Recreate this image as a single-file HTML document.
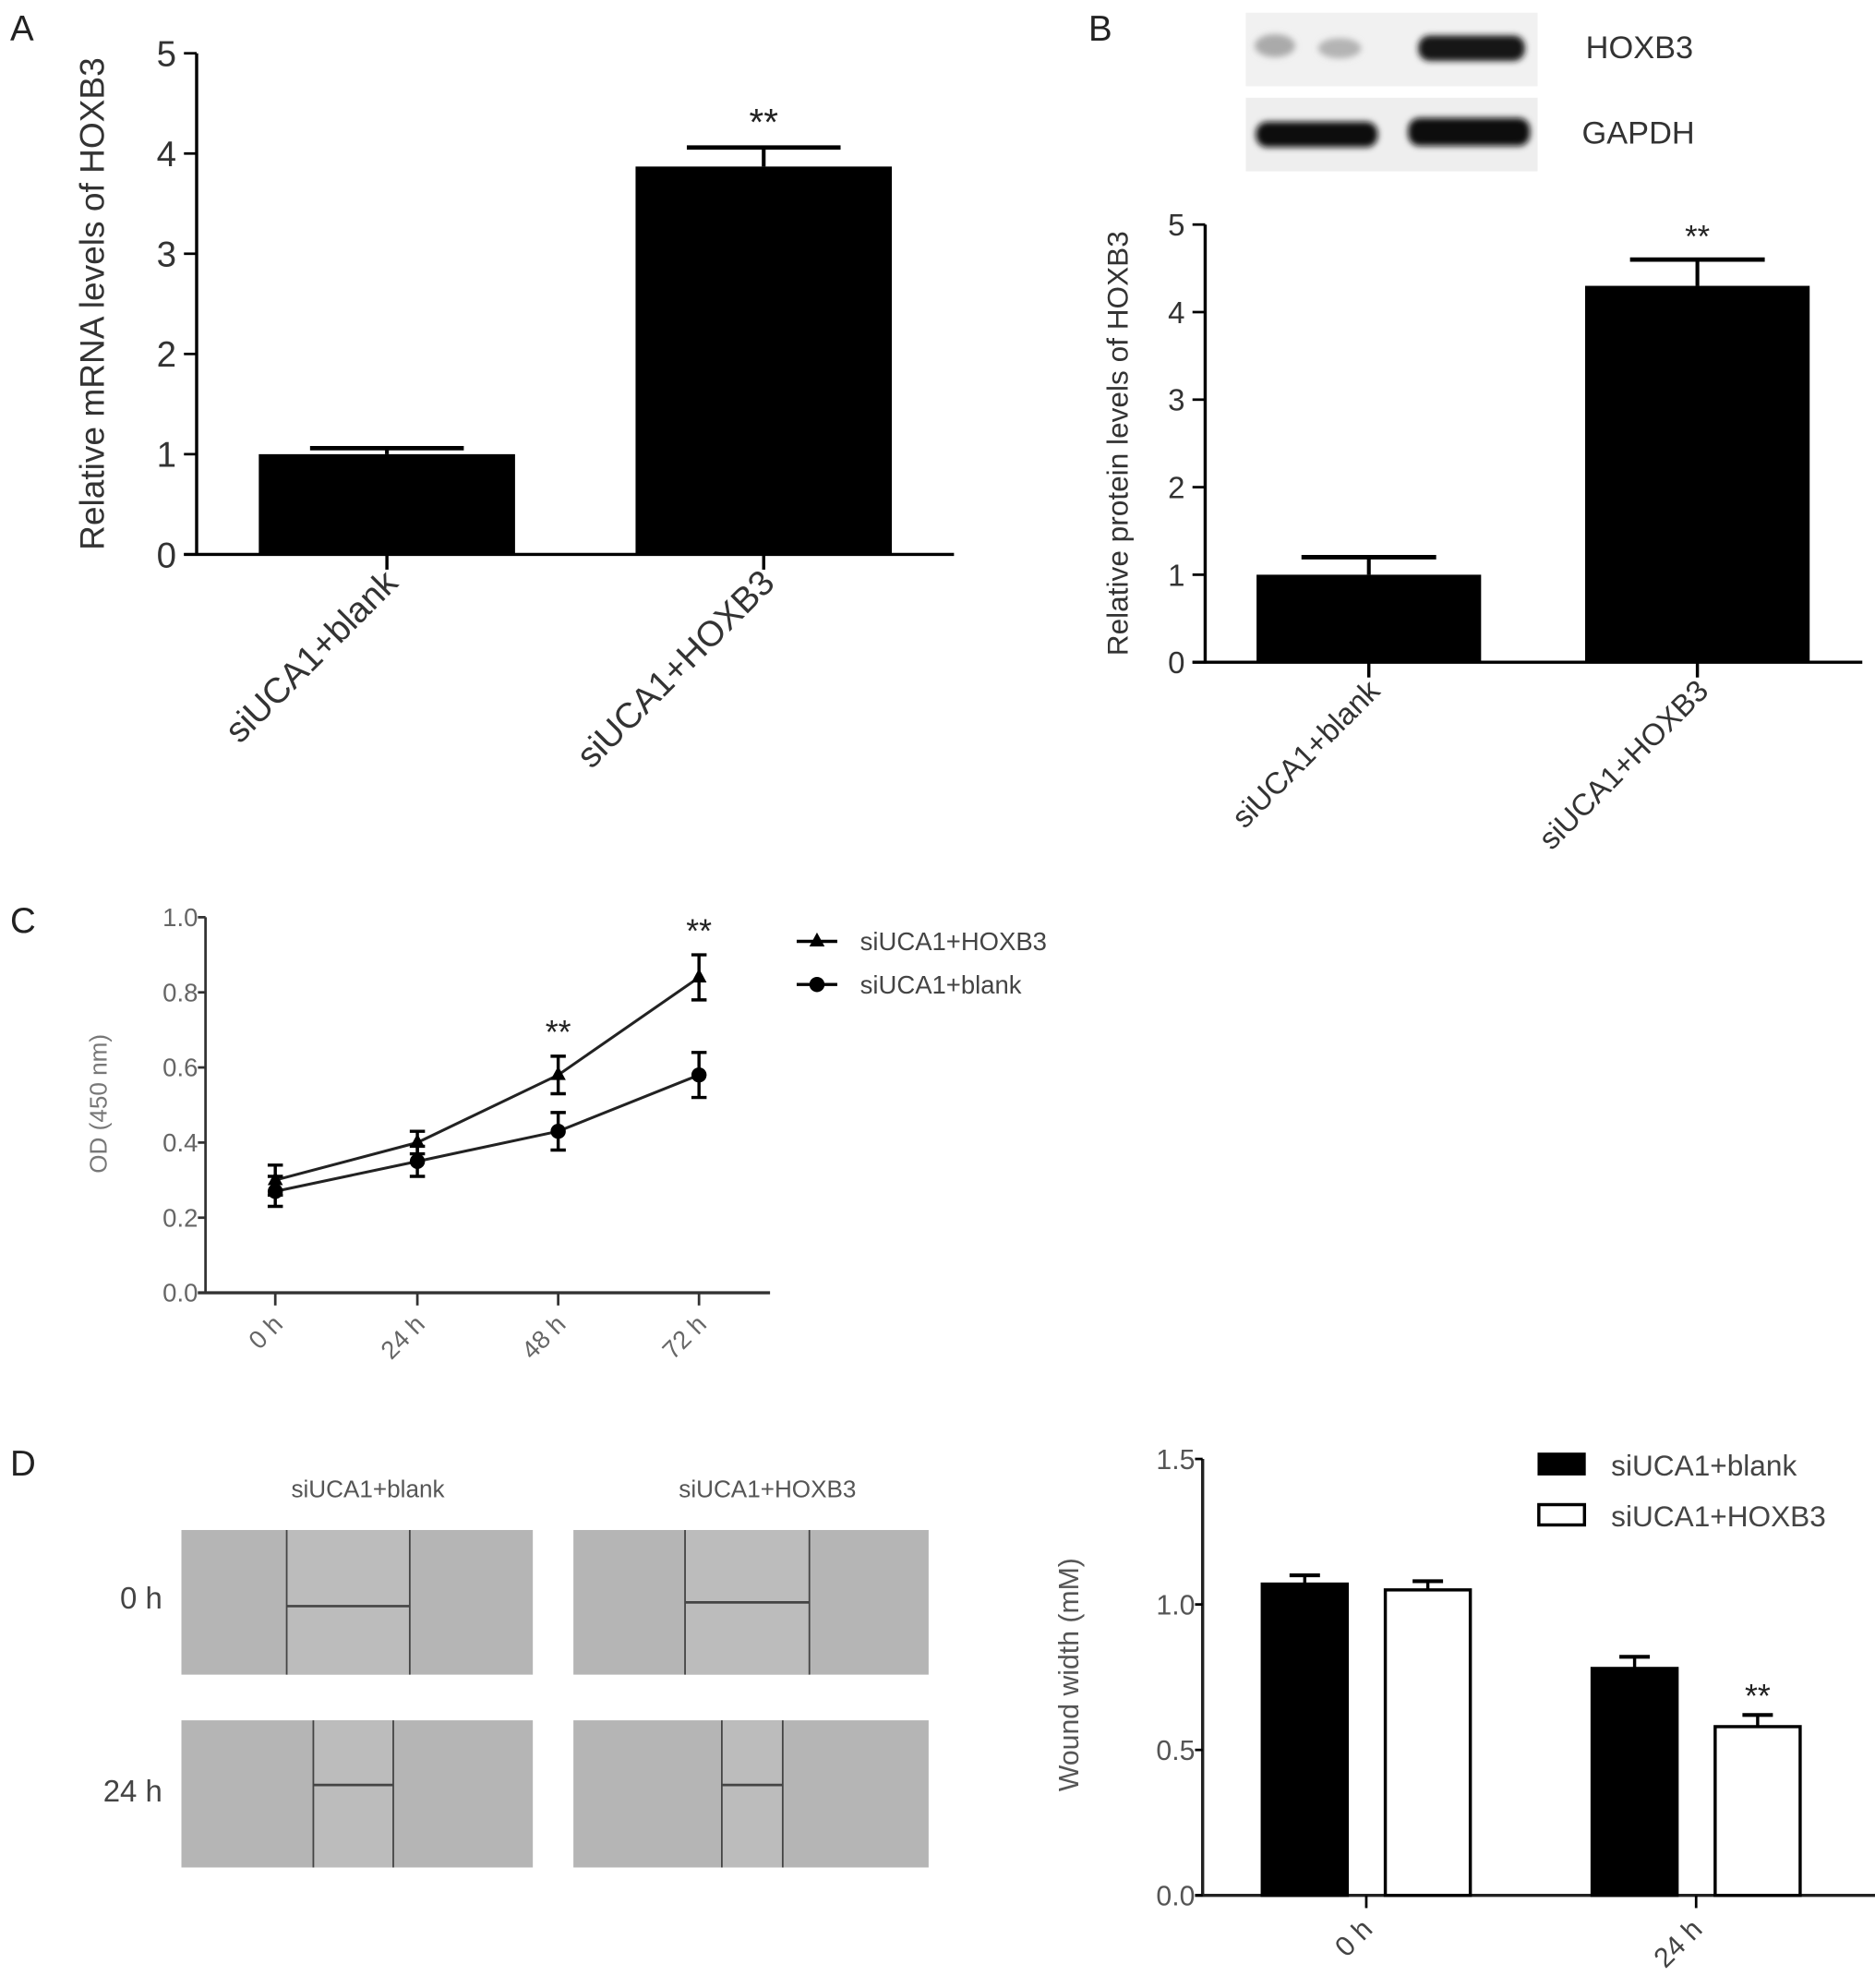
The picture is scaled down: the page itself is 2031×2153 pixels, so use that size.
<!DOCTYPE html>
<html><head><meta charset="utf-8"><style>
html,body{margin:0;padding:0;background:#fff;}
svg{display:block;font-family:"Liberation Sans",sans-serif;}
</style></head><body>
<svg id="fig" width="2031" height="2153" viewBox="0 0 1478 1567" preserveAspectRatio="none" xmlns="http://www.w3.org/2000/svg">
<defs>
<filter id="blur2" x="-20%" y="-50%" width="140%" height="200%"><feGaussianBlur stdDeviation="2.5"/></filter>
</defs>
<g id="root"></g>
</svg>
<script>
// Panel A data
const catsA = ["siUCA1+blank","siUCA1+HOXB3"];
const valsA = [1.0, 3.87];
const errA = [0.06, 0.19];
const ticksA = [0,1,2,3,4,5];
// Panel B data
const catsB = ["siUCA1+blank","siUCA1+HOXB3"];
const valsB = [1.0, 4.3];
const errB = [0.2, 0.3];
const ticksB = [0,1,2,3,4,5];
// Panel C data
const timesC = ["0 h","24 h","48 h","72 h"];
const hoxC = [0.30, 0.40, 0.58, 0.84];
const hoxErrC = [0.04, 0.03, 0.05, 0.06];
const blankC = [0.27, 0.35, 0.43, 0.58];
const blankErrC = [0.04, 0.04, 0.05, 0.06];
const ticksC = ["0.0","0.2","0.4","0.6","0.8","1.0"];
// Panel D data
const timesD = ["0 h","24 h"];
const blankD = [1.07, 0.78];
const blankErrD = [0.03, 0.04];
const hoxD = [1.05, 0.58];
const hoxErrD = [0.03, 0.04];
const ticksD = ["0.0","0.5","1.0","1.5"];

const NS="http://www.w3.org/2000/svg";
const root=document.getElementById('root');
function el(tag,attrs,parent,text){const e=document.createElementNS(NS,tag);for(const k in attrs)e.setAttribute(k,attrs[k]);if(text!==undefined)e.textContent=text;(parent||root).appendChild(e);return e;}
function line(x1,y1,x2,y2,w,p,c){return el('line',{x1,y1,x2,y2,stroke:c||'#000','stroke-width':w||2},p);}

[["A",8,32],["B",858,32],["C",8,735],["D",8,1163]].forEach(([t,x,y])=>{
 const e=el('text',{x,y,'font-size':28,fill:'#222'},root,t);
 
 
});

function barPanel(opts){
 const g=el('g',{});
 
 
 const {ax,y0,ymax,ytop,xEnd,cats,vals,errs,ticks,barW,centers,fs,star}=opts;
 const Y=v=>y0-(v/ymax)*(y0-ytop);
 line(ax,ytop,ax,y0+1,2.5,g);
 line(ax-10,y0,xEnd,y0,2.5,g);
 ticks.forEach(t=>{line(ax-10,Y(t),ax,Y(t),2,g);
  const tx=el('text',{x:ax-16,y:Y(t)+fs*0.36,'font-size':fs,'text-anchor':'end',fill:'#333'},g,String(t));
  
  });
 cats.forEach((c,i)=>{
  const cx=centers[i];
  const top=Y(vals[i]+errs[i]);
  line(cx,top,cx,Y(vals[i]),3,g);
  line(cx-barW*0.3,top,cx+barW*0.3,top,3.5,g);
  const r=el('rect',{x:cx-barW/2,y:Y(vals[i]),width:barW,height:y0-Y(vals[i]),fill:'#000'},g);
  
  
  line(cx,y0,cx,y0+12,2.5,g);
  const lbl=el('text',{x:0,y:0,'font-size':fs*1.0,'text-anchor':'end',fill:'#333',transform:`translate(${cx+10},${y0+24}) rotate(-45)`},g,c);
  
  
  if(i===1){const s=el('text',{x:cx,y:top-10,'font-size':fs*1.05,'text-anchor':'middle',fill:'#222'},g,star);
   
   }
 });
 const yt=el('text',{x:0,y:0,'font-size':opts.lfs,'text-anchor':'middle',fill:'#333',transform:`translate(${opts.lx},${(ytop+y0)/2}) rotate(-90)`},g,opts.ylabel);
 
 
}
barPanel({name:'panel-a-chart',ax:155,y0:437,ymax:5,ytop:42,xEnd:752,cats:catsA,vals:valsA,errs:errA,ticks:ticksA,barW:202,centers:[305,602],fs:28,star:'**',lx:82,lfs:27,ylabel:'Relative mRNA levels of HOXB3'});
barPanel({name:'panel-b-chart',ax:950,y0:522,ymax:5,ytop:177,xEnd:1468,cats:catsB,vals:valsB,errs:errB,ticks:ticksB,barW:177,centers:[1079,1338],fs:24,star:'**',lx:889,lfs:23,ylabel:'Relative protein levels of HOXB3'});

(function(){
 const g=el('g',{});
 
 
 el('rect',{x:982,y:10,width:230,height:58,fill:'#f1f1f1'},g);
 el('rect',{x:982,y:77,width:230,height:58,fill:'#eeeeee'},g);
 el('ellipse',{cx:1005,cy:36,rx:16,ry:9,fill:'#aaa',filter:'url(#blur2)'},g);
 el('ellipse',{cx:1056,cy:38,rx:17,ry:8,fill:'#b4b4b4',filter:'url(#blur2)'},g);
 el('rect',{x:1118,y:28,width:84,height:20,rx:9,fill:'#151515',filter:'url(#blur2)'},g);
 el('rect',{x:990,y:96,width:96,height:20,rx:9,fill:'#111',filter:'url(#blur2)'},g);
 el('rect',{x:1110,y:93,width:96,height:22,rx:9,fill:'#0a0a0a',filter:'url(#blur2)'},g);
 const a=el('text',{x:1250,y:46,'font-size':25,fill:'#333'},g,'HOXB3');
 
 const b=el('text',{x:1247,y:113,'font-size':25,fill:'#333'},g,'GAPDH');
 
})();

(function(){
 const g=el('g',{});
 
 
 const ax=162,y0=1019,ytop=723,xs=[217,329,440,551];
 const Y=v=>y0-v*(y0-ytop);
 line(ax,ytop,ax,y0+1,2,g,'#333');
 line(ax-6,y0,607,y0,2.5,g,'#333');
 ticksC.forEach(t=>{const v=parseFloat(t);line(ax-6,Y(v),ax,Y(v),2,g,'#333');
  const tx=el('text',{x:ax-6,y:Y(v)+7,'font-size':20,'text-anchor':'end',fill:'#666'},g,t);
  });
 timesC.forEach((t,i)=>{line(xs[i],y0,xs[i],y0+10,2,g,'#333');
  const tx=el('text',{x:0,y:0,'font-size':20,'text-anchor':'end',fill:'#666',transform:`translate(${xs[i]+7},${y0+26}) rotate(-45)`},g,t);
  });
 function series(vals,errs,marker,name){
  const pl=el('polyline',{points:vals.map((v,i)=>xs[i]+','+Y(v)).join(' '),fill:'none',stroke:'#222','stroke-width':2.2},g);
  
  vals.forEach((v,i)=>{const x=xs[i];
   line(x,Y(v+errs[i]),x,Y(v-errs[i]),2.5,g);
   line(x-6,Y(v+errs[i]),x+6,Y(v+errs[i]),2.5,g);
   line(x-6,Y(v-errs[i]),x+6,Y(v-errs[i]),2.5,g);
   let m;
   if(marker==='tri')m=el('polygon',{points:`${x},${Y(v)-7} ${x-6},${Y(v)+4} ${x+6},${Y(v)+4}`,fill:'#000'},g);
   else m=el('circle',{cx:x,cy:Y(v),r:6,fill:'#000'},g);
   });
 }
 series(hoxC,hoxErrC,'tri','hoxb3-series');
 series(blankC,blankErrC,'dot','blank-series');
 [[2,'**'],[3,'**']].forEach(([i,s])=>{const e=el('text',{x:xs[i],y:Y(hoxC[i]+hoxErrC[i])-10,'font-size':26,'text-anchor':'middle',fill:'#222'},g,s);
  });
 const yt=el('text',{x:0,y:0,'font-size':19,'text-anchor':'middle',fill:'#777',transform:`translate(84,870) rotate(-90)`},g,'OD (450 nm)');
 
 line(628,742,660,742,2.5,g);el('polygon',{points:'644,735 638,746 650,746',fill:'#000'},g);
 const l1=el('text',{x:678,y:749,'font-size':20,fill:'#444'},g,'siUCA1+HOXB3');
 
 line(628,776,660,776,2.5,g);el('circle',{cx:644,cy:776,r:6,fill:'#000'},g);
 const l2=el('text',{x:678,y:783,'font-size':20,fill:'#444'},g,'siUCA1+blank');
 
})();

(function(){
 const g=el('g',{});
 
 
 const imgs=[[143,1206,1320,226,323,1266],[452,1206,1320,540,638,1263],[143,1356,1472,247,310,1407],[452,1356,1472,569,617,1407]];
 const w=[277,280,277,280];
 imgs.forEach((m,i)=>{
  el('rect',{x:m[0],y:m[1],width:w[i],height:m[2]-m[1],fill:'#b5b5b5'},g);
  el('rect',{x:m[3],y:m[1],width:m[4]-m[3],height:m[2]-m[1],fill:'#bcbcbc'},g);
  line(m[3],m[1],m[3],m[2],1.3,g,'#444');line(m[4],m[1],m[4],m[2],1.3,g,'#444');
  line(m[3],m[5],m[4],m[5],2,g,'#444');
 });
 [["siUCA1+blank",290],["siUCA1+HOXB3",605]].forEach(([t,x])=>{const e=el('text',{x,y:1180,'font-size':19,'text-anchor':'middle',fill:'#555'},g,t);
  });
 [["0 h",1268],["24 h",1420]].forEach(([t,y])=>{const e=el('text',{x:128,y,'font-size':24,'text-anchor':'end',fill:'#444'},g,t);
  });
})();

(function(){
 const g=el('g',{});
 
 
 const ax=948,y0=1494,ytop=1150;
 const Y=v=>y0-(v/1.5)*(y0-ytop);
 line(ax,ytop,ax,y0+1,2.5,g,'#222');line(ax-6,y0,1478,y0,2.5,g,'#222');
 ticksD.forEach(t=>{const v=parseFloat(t);line(ax-6,Y(v),ax,Y(v),2,g);
  const e=el('text',{x:ax-6,y:Y(v)+8,'font-size':22,'text-anchor':'end',fill:'#555'},g,t);
  });
 const centers=[1077,1337],bw=67,off=48.5;
 timesD.forEach((t,i)=>{
  [[blankD,blankErrD,-off,'#000','blank'],[hoxD,hoxErrD,off,'#fff','hoxb3']].forEach(([vals,errs,o,fill,nm])=>{
   const cx=centers[i]+o,v=vals[i],top=Y(v+errs[i]);
   line(cx,top,cx,Y(v),2.5,g);line(cx-12,top,cx+12,top,3,g);
   const r=el('rect',{x:cx-bw/2,y:Y(v),width:bw,height:y0-Y(v),fill,stroke:'#000','stroke-width':2.5},g);
   
  });
  line(centers[i],y0,centers[i],y0+10,2,g);
  const e=el('text',{x:0,y:0,'font-size':22,'text-anchor':'end',fill:'#444',transform:`translate(${centers[i]+6},${y0+28}) rotate(-45)`},g,t);
  
 });
 const s=el('text',{x:centers[1]+off,y:Y(hoxD[1]+hoxErrD[1])-6,'font-size':26,'text-anchor':'middle',fill:'#222'},g,'**');
 
 const yt=el('text',{x:0,y:0,'font-size':22,'text-anchor':'middle',fill:'#555',transform:`translate(850,1320) rotate(-90)`},g,'Wound width (mM)');
 
 el('rect',{x:1212,y:1145,width:38,height:18,fill:'#000'},g);
 const l1=el('text',{x:1270,y:1163,'font-size':23,fill:'#444'},g,'siUCA1+blank');
 
 el('rect',{x:1213,y:1186,width:36,height:16,fill:'#fff',stroke:'#000','stroke-width':2.5},g);
 const l2=el('text',{x:1270,y:1203,'font-size':23,fill:'#444'},g,'siUCA1+HOXB3');
 
})();
</script>
</body></html>
